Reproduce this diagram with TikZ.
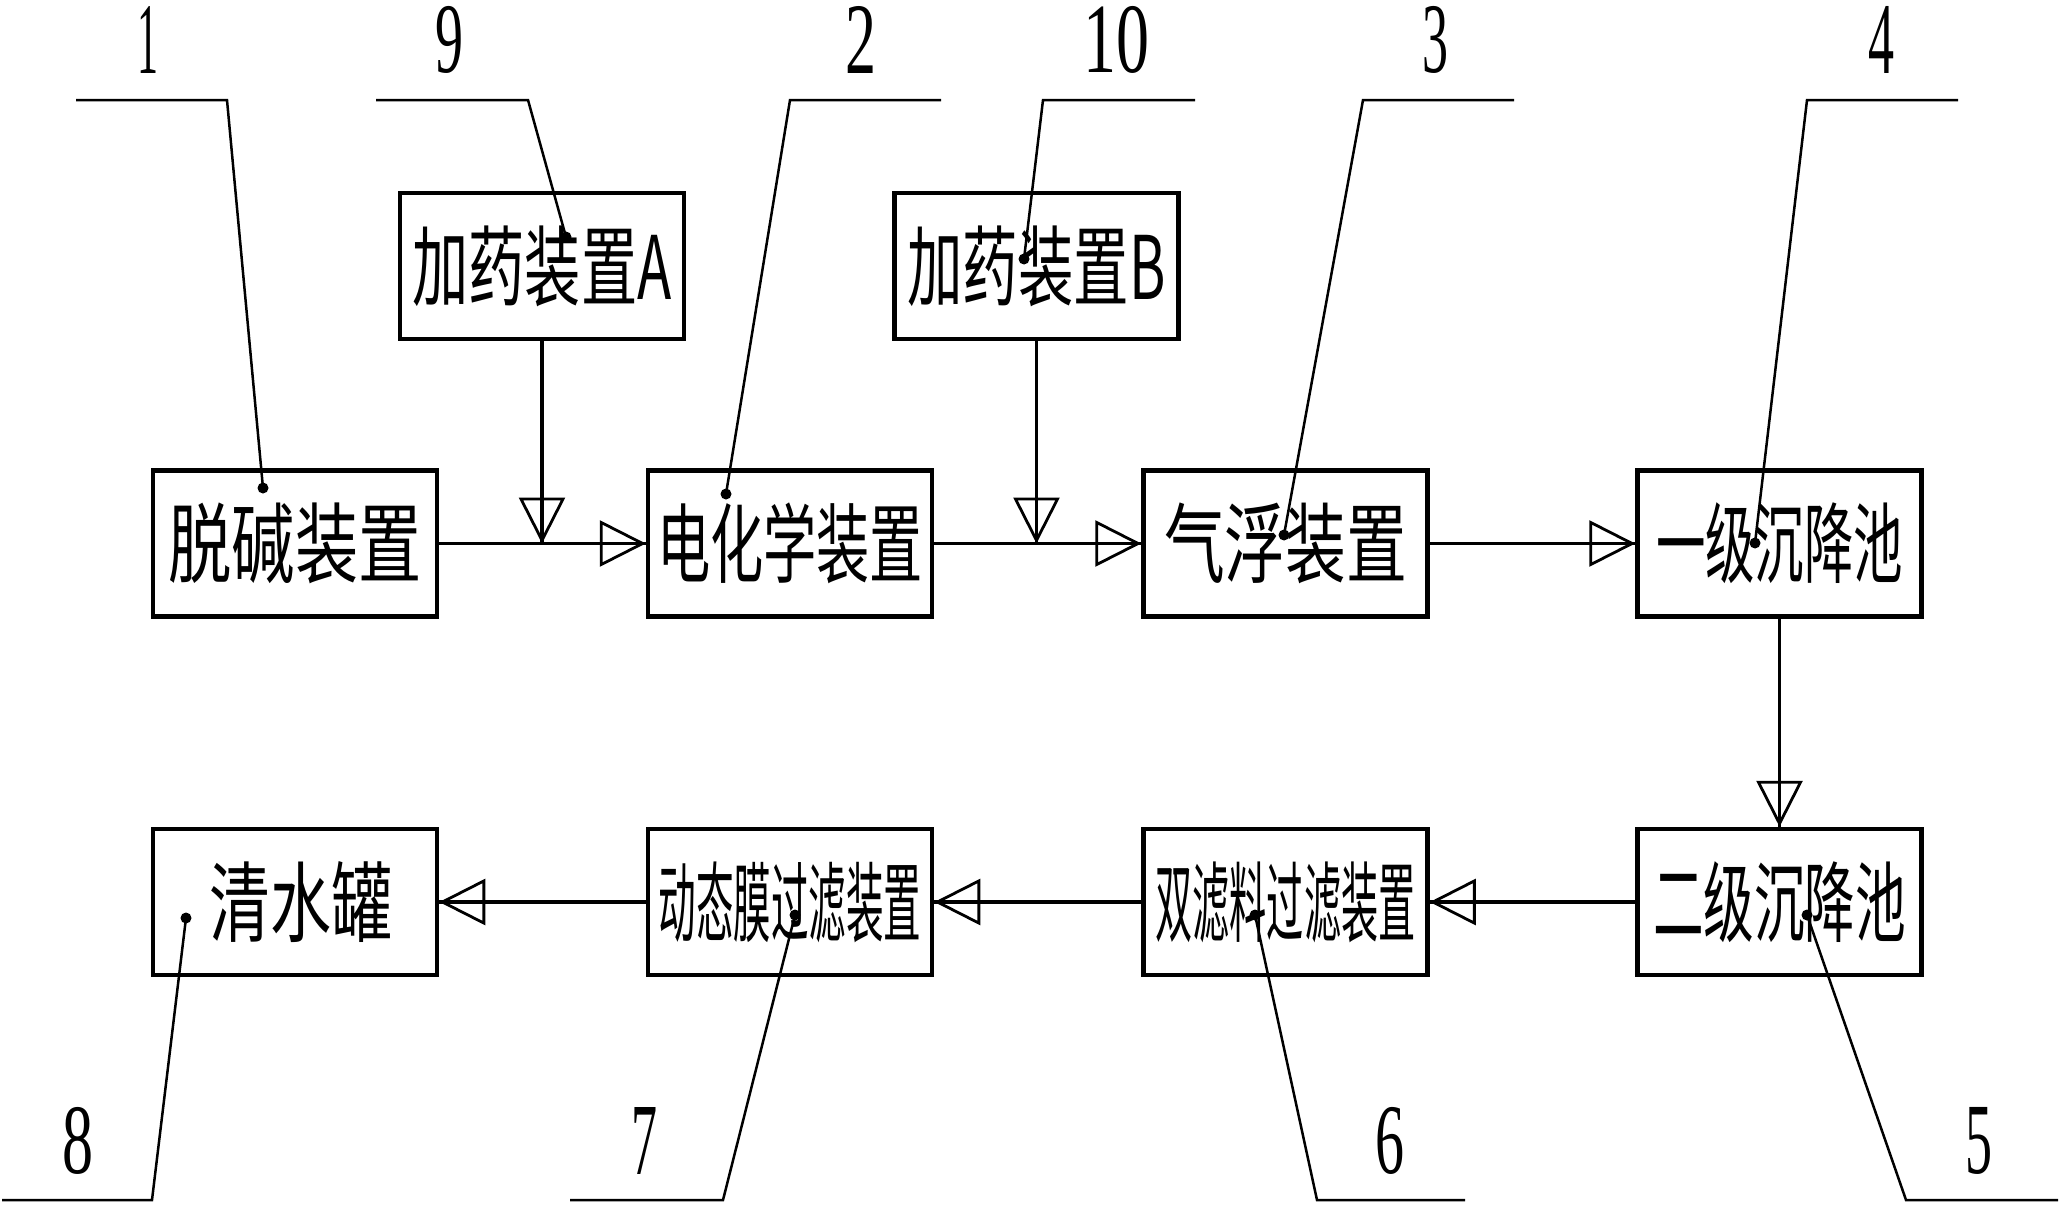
\documentclass[tikz,border=0pt]{standalone}
\usepackage{graphicx}
\usepackage{fontspec}
\setmainfont{Liberation Serif}
\newfontfamily\cjk{Noto Sans CJK SC}
\usetikzlibrary{arrows.meta}
\newcommand\boxtext[2]{\resizebox*{#1}{81pt}{\cjk #2}}
\newcommand\numlabel[2]{\resizebox*{#1}{67pt}{#2}}
\begin{document}
\begin{tikzpicture}[x=1pt,y=-1pt,
  blk/.style={draw, line width=4.5pt, minimum width=284pt, minimum height=146pt, inner sep=0pt},
  flow/.style={line width=3.5pt, -{Triangle[open, length=46pt, width=46pt, line width=2.8pt]},
    postaction={draw, arrows=-}},
  leader/.style={line width=2.5pt},
  pindot/.style={circle, fill, inner sep=0pt, minimum size=11pt},
  num/.style={inner sep=0pt}]
\useasboundingbox (0,0) rectangle (2063,1207);
% boxes
\node[blk] (b1) at (295,543.5) {\boxtext{253pt}{脱碱装置}};
\node[blk] (dA) at (542,266) {\boxtext{259pt}{加药装置A}};
\node[blk] (b2) at (790,543.5) {\boxtext{266pt}{电化学装置}};
\node[blk] (dB) at (1036.5,266) {\boxtext{258pt}{加药装置B}};
\node[blk] (b3) at (1285.5,543.5) {\boxtext{243pt}{气浮装置}};
\node[blk] (b4) at (1779.5,543.5) {\boxtext{247pt}{一级沉降池}};
\node[blk] (b5) at (1779.5,902) {\boxtext{253pt}{二级沉降池}};
\node[blk] (b6) at (1285.5,902) {\boxtext{260pt}{双滤料过滤装置}};
\node[blk] (b7) at (790,902) {\boxtext{263pt}{动态膜过滤装置}};
\node[blk] (b8) at (295,902) {\hspace*{12pt}\boxtext{183pt}{清水罐}};
% flows
\draw[flow] (b1) -- (b2);
\draw[flow] (b2) -- (b3);
\draw[flow] (b3) -- (b4);
\draw[flow] (b4) -- (b5);
\draw[flow] (b5) -- (b6);
\draw[flow] (b6) -- (b7);
\draw[flow] (b7) -- (b8);
\draw[flow] (dA.south) -- (dA.south |- b1.east);
\draw[flow] (dB.south) -- (dB.south |- b2.east);
% leader dots
\node[pindot] (p1) at (263,488) {};
\node[pindot] (p9) at (566,237) {};
\node[pindot] (p2) at (726,494) {};
\node[pindot] (p10) at (1024,259) {};
\node[pindot] (p3) at (1284,535) {};
\node[pindot] (p4) at (1755,543) {};
\node[pindot] (p8) at (186,918) {};
\node[pindot] (p7) at (795,915) {};
\node[pindot] (p6) at (1255,915) {};
\node[pindot] (p5) at (1807,915) {};
% leader knees and ends
\coordinate (k1) at (227,100); \coordinate (e1) at (76,100);
\coordinate (k9) at (528,100); \coordinate (e9) at (376,100);
\coordinate (k2) at (790,100); \coordinate (e2) at (941,100);
\coordinate (k10) at (1043,100); \coordinate (e10) at (1195,100);
\coordinate (k3) at (1363,100); \coordinate (e3) at (1514,100);
\coordinate (k4) at (1807,100); \coordinate (e4) at (1958,100);
\coordinate (k8) at (152,1200); \coordinate (e8) at (2,1200);
\coordinate (k7) at (723,1200); \coordinate (e7) at (570,1200);
\coordinate (k6) at (1317,1200); \coordinate (e6) at (1465,1200);
\coordinate (k5) at (1906,1200); \coordinate (e5) at (2058,1200);
\draw[leader] (p1.center) -- (k1) -- (e1);
\draw[leader] (p9.center) -- (k9) -- (e9);
\draw[leader] (p2.center) -- (k2) -- (e2);
\draw[leader] (p10.center) -- (k10) -- (e10);
\draw[leader] (p3.center) -- (k3) -- (e3);
\draw[leader] (p4.center) -- (k4) -- (e4);
\draw[leader] (p8.center) -- (k8) -- (e8);
\draw[leader] (p7.center) -- (k7) -- (e7);
\draw[leader] (p6.center) -- (k6) -- (e6);
\draw[leader] (p5.center) -- (k5) -- (e5);
% number labels
\node[num] (n1) at (148,40) {\numlabel{21pt}{1}};
\node[num] (n9) at (449,40) {\numlabel{28pt}{9}};
\node[num] (n2) at (861,40) {\numlabel{31pt}{2}};
\node[num] (n10) at (1116,40) {\numlabel{66pt}{10}};
\node[num] (n3) at (1435,40) {\numlabel{26pt}{3}};
\node[num] (n4) at (1881,40) {\numlabel{26pt}{4}};
\node[num] (n8) at (78,1141) {\numlabel{31pt}{8}};
\node[num] (n7) at (644,1141) {\numlabel{26pt}{7}};
\node[num] (n6) at (1390,1141) {\numlabel{29pt}{6}};
\node[num] (n5) at (1979,1141) {\numlabel{27pt}{5}};
\end{tikzpicture}
\end{document}
